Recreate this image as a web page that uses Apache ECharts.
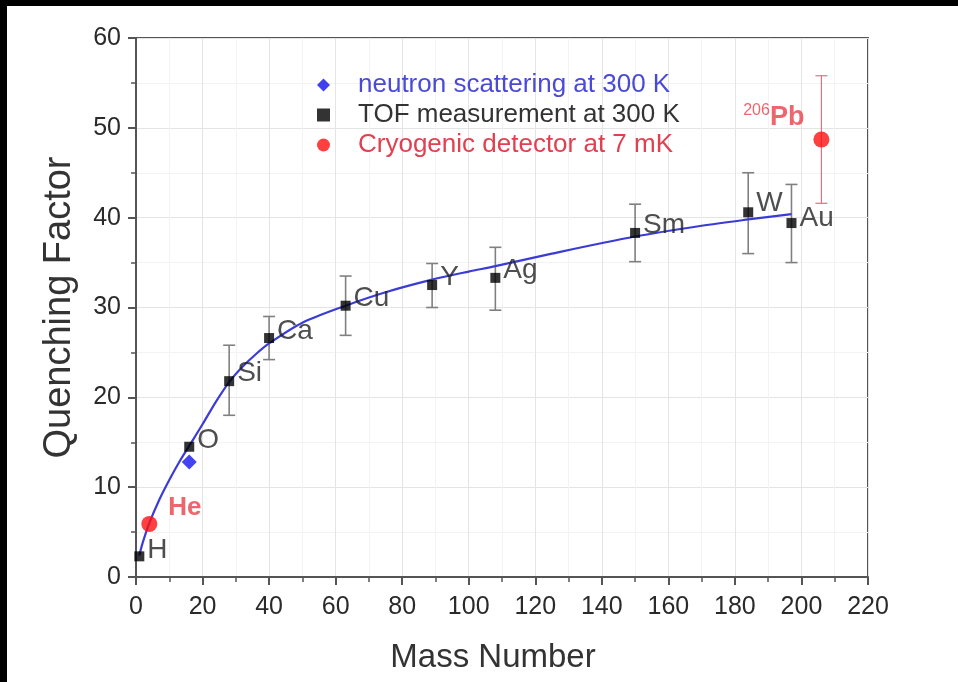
<!DOCTYPE html>
<html><head><meta charset="utf-8">
<script src="https://cdn.jsdelivr.net/npm/echarts@6/dist/echarts.min.js"></script>
<style>html,body{margin:0;padding:0;background:#fff}#c{width:958px;height:682px}</style>
</head><body><div id="c"></div>
<script>
// ---- data ----
var tofNames = ['H','O','Si','Ca','Cu','Y','Ag','Sm','W','Au'];
var tofMass  = [1, 16, 28, 40, 63, 89, 108, 150, 184, 197];
var tofQF    = [2.3, 14.5, 21.8, 26.6, 30.2, 32.5, 33.3, 38.3, 40.6, 39.4];
var tofLow   = [null, null, 18.0, 24.2, 26.9, 30.0, 29.7, 35.1, 36.0, 35.0];
var tofHigh  = [null, null, 25.8, 29.0, 33.5, 34.9, 36.7, 41.5, 45.0, 43.7];

var neutronMass = [16];
var neutronQF   = [12.8];

var cryoNames = ['He','206Pb'];
var cryoMass  = [4, 206];
var cryoQF    = [5.9, 48.7];
var cryoLow   = [null, 41.6];
var cryoHigh  = [null, 55.8];

var fitMass = [1, 2, 4, 7, 10, 13, 16, 20, 24, 28, 32, 36, 40, 50, 63, 75, 89, 100, 108, 125, 150, 170, 184, 197];
var fitQF   = [2.4, 3.8, 6.0, 8.6, 10.8, 12.8, 14.6, 17.0, 19.5, 21.7, 23.4, 24.8, 26.0, 28.3, 30.2, 31.7, 33.1, 34.0, 34.6, 36.0, 37.9, 39.1, 39.8, 40.4];

var xTicks = [0,20,40,60,80,100,120,140,160,180,200,220];
var yTicks = [0,10,20,30,40,50,60];

var legendNames = ['neutron scattering at 300 K','TOF measurement at 300 K','Cryogenic detector at 7 mK'];

// ---- build ----
var FONT = 'Liberation Sans';
function zip(a,b){return a.map(function(v,i){return [v,b[i]];});}
function errData(xs,lo,hi){var o=[];xs.forEach(function(x,i){if(lo[i]!=null)o.push([x,lo[i],hi[i]]);});return o;}

var labelOffsets = {H:[0,-6],O:[0,-6],Si:[0,-8],Ca:[0,-7],Cu:[0,-7],Y:[0,-8],Ag:[0,-8],Sm:[0,-8],W:[0,-9],Au:[0,-5]};
var tofData = tofNames.map(function(n,i){
  return {value:[tofMass[i],tofQF[i]], name:n, label:{offset:labelOffsets[n]}};
});
var RED_TXT = '#e8404a';
var cryoData = [
  {value:[cryoMass[0],cryoQF[0]], name:cryoNames[0], label:{show:true, position:'right', offset:[6,-16], formatter:'He', color:RED_TXT, fontSize:26, fontWeight:'bold', fontFamily:FONT}},
  {value:[cryoMass[1],cryoQF[1]], name:cryoNames[1], label:{show:true, position:'left', offset:[-4,-22], formatter:'{s|206}{p|Pb}',
     rich:{s:{fontSize:16,color:RED_TXT,fontFamily:FONT,padding:[0,0,14,0]}, p:{fontSize:27,fontWeight:'bold',color:RED_TXT,fontFamily:FONT}}}}
];

function errRender(color,width){
  return function(params,api){
    var x=api.value(0), lo=api.value(1), hi=api.value(2);
    var p1=api.coord([x,lo]), p2=api.coord([x,hi]);
    var w=6;
    return {type:'group',children:[
      {type:'line',shape:{x1:p1[0],y1:p1[1],x2:p2[0],y2:p2[1]},style:{stroke:color,lineWidth:width}},
      {type:'line',shape:{x1:p1[0]-w,y1:p1[1],x2:p1[0]+w,y2:p1[1]},style:{stroke:color,lineWidth:width}},
      {type:'line',shape:{x1:p2[0]-w,y1:p2[1],x2:p2[0]+w,y2:p2[1]},style:{stroke:color,lineWidth:width}}
    ]};
  };
}

var axisCommon = {
  axisLine:{show:true,lineStyle:{color:'#555',width:2}},
  axisTick:{show:true,inside:false,length:8,lineStyle:{color:'#555',width:2}},
  minorTick:{show:true,splitNumber:2,length:5,lineStyle:{color:'#555',width:1.5}},
  splitLine:{show:true,lineStyle:{color:'#e4e4e4',width:1}},
  minorSplitLine:{show:true,lineStyle:{color:'#f3f3f3',width:1}}
};

var option = {
  backgroundColor:'#fff',
  animation:false,
  grid:{left:136,right:90,top:38,bottom:105,show:true,borderColor:'#555',borderWidth:2,backgroundColor:'transparent'},
  xAxis:Object.assign({type:'value',min:xTicks[0],max:xTicks[xTicks.length-1],interval:20,
    name:'Mass Number',nameLocation:'middle',nameGap:64,
    nameTextStyle:{fontSize:33,color:'#333',fontFamily:FONT,padding:[0,18,0,0]}},axisCommon,
    {axisLabel:{color:'#2a2a2a',fontSize:25,fontFamily:FONT,margin:18}}),
  yAxis:Object.assign({type:'value',min:yTicks[0],max:yTicks[yTicks.length-1],interval:10,
    name:'Quenching Factor',nameLocation:'middle',nameGap:57,
    nameTextStyle:{fontSize:38,color:'#333',fontFamily:FONT}},axisCommon,
    {axisLabel:{color:'#2a2a2a',fontSize:25,fontFamily:FONT,margin:15}}),
  legend:{
    orient:'vertical',left:312,top:67,itemGap:4,itemWidth:13,itemHeight:13,
    data:[
      {name:legendNames[0],icon:'diamond',itemStyle:{color:'#1010ee'},textStyle:{color:'#4a4ad8'}},
      {name:legendNames[1],icon:'rect',itemStyle:{color:'#000'},textStyle:{color:'#333'}},
      {name:legendNames[2],icon:'circle',itemStyle:{color:'#ff1010'},textStyle:{color:'#e04050'}}
    ],
    textStyle:{fontSize:26,lineHeight:26,fontFamily:FONT,padding:[0,0,0,23]},
    selectedMode:false
  },
  graphic:[
    {type:'rect',left:0,top:0,shape:{width:958,height:6},style:{fill:'#000'},z:100},
    {type:'rect',left:0,top:0,shape:{width:7,height:682},style:{fill:'#000'},z:100}
  ],
  series:[
    {type:'custom',name:'tofErr',renderItem:errRender('#808080',1.6),data:errData(tofMass,tofLow,tofHigh),z:2,silent:true},
    {type:'custom',name:'cryoErr',renderItem:errRender('#e07080',1.2),data:errData(cryoMass,cryoLow,cryoHigh),z:2,silent:true},
    {type:'line',name:'fit',data:zip(fitMass,fitQF),smooth:0.3,showSymbol:false,lineStyle:{color:'#3b3bd6',width:2.2},z:3,silent:true},
    {type:'scatter',name:legendNames[1],data:tofData,symbol:'rect',symbolSize:10,itemStyle:{color:'#000'},z:4,
      label:{show:true,position:'right',distance:3,formatter:'{b}',color:'#222',fontSize:28,fontFamily:FONT}},
    {type:'scatter',name:legendNames[0],data:zip(neutronMass,neutronQF),symbol:'diamond',symbolSize:15,itemStyle:{color:'#1414f0'},z:4},
    {type:'scatter',name:legendNames[2],data:cryoData,symbol:'circle',symbolSize:16,itemStyle:{color:'#ff1010'},z:4}
  ]
};
var chart = echarts.init(document.getElementById('c'));
chart.setOption(option);
</script></body></html>
